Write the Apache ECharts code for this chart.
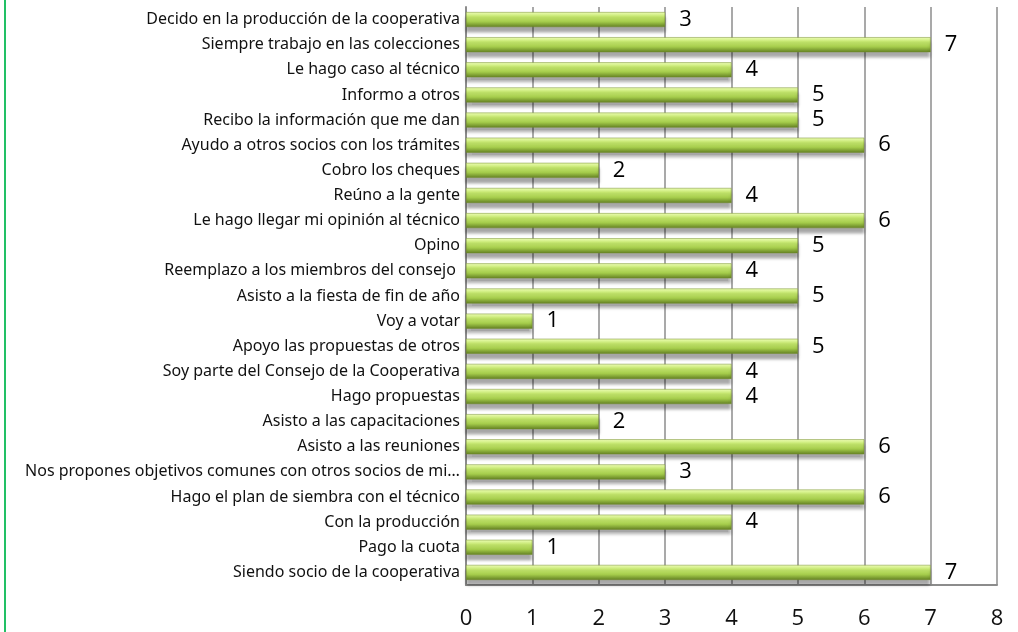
<!DOCTYPE html>
<html>
<head>
<meta charset="utf-8">
<script src="https://cdn.jsdelivr.net/npm/echarts@6/dist/echarts.min.js"></script>
<style>
    html, body { margin: 0; padding: 0; background: #fff; }
    #wrap { position: relative; width: 1018px; height: 632px; }
    #edge { position: absolute; left: 4px; top: 0; width: 2px; height: 632px; background: #22c065; }
    #chart_con { width: 1018px; height: 632px; }
</style>
</head>
<body>
<div id="wrap">
    <div id="chart_con"></div>
    <div id="edge"></div>
</div>
<script>
// categories, top to bottom as in the picture
var categories = [
    'Decido en la producción de la cooperativa',
    'Siempre trabajo en las colecciones',
    'Le hago caso al técnico',
    'Informo a otros',
    'Recibo la información que me dan',
    'Ayudo a otros socios con los trámites',
    'Cobro los cheques',
    'Reúno a la gente',
    'Le hago llegar mi opinión al técnico',
    'Opino',
    'Reemplazo a los miembros del consejo ',
    'Asisto a la fiesta de fin de año',
    'Voy a votar',
    'Apoyo las propuestas de otros',
    'Soy parte del Consejo de la Cooperativa',
    'Hago propuestas',
    'Asisto a las capacitaciones',
    'Asisto a las reuniones',
    'Nos propones objetivos comunes con otros socios de mi…',
    'Hago el plan de siembra con el técnico',
    'Con la producción',
    'Pago la cuota',
    'Siendo socio de la cooperativa'
];
var counts = [3, 7, 4, 5, 5, 6, 2, 4, 6, 5, 4, 5, 1, 5, 4, 4, 2, 6, 3, 6, 4, 1, 7];
var xTicks = [0, 1, 2, 3, 4, 5, 6, 7, 8];

var chart = echarts.init(document.getElementById('chart_con'));
var gridColor = '#8c8c8c';
var option = {
    animation: false,
    grid: { left: 466, right: 21, top: 7, bottom: 47, containLabel: false },
    xAxis: {
        type: 'value',
        min: xTicks[0],
        max: xTicks[xTicks.length - 1],
        interval: 1,
        axisLine: { show: true, lineStyle: { color: gridColor, width: 2 } },
        axisTick: { show: false },
        splitLine: { show: true, lineStyle: { color: gridColor, width: 1.5 } },
        axisLabel: { color: '#111', fontSize: 22, margin: 23, fontFamily: 'Open Sans' }
    },
    yAxis: {
        type: 'category',
        inverse: true,
        data: categories,
        axisLine: { show: true, lineStyle: { color: gridColor, width: 2 } },
        axisTick: { show: false },
        axisLabel: { color: '#111', fontSize: 16, margin: 6, fontFamily: 'Noto Sans' }
    },
    series: [
        {
            name: 'Cantidad',
            type: 'bar',
            data: counts,
            barWidth: 15,
            itemStyle: {
                color: new echarts.graphic.LinearGradient(0, 0, 0, 1, [
                    { offset: 0, color: '#eafab4' },
                    { offset: 0.3, color: '#cbee72' },
                    { offset: 0.65, color: '#a3ca4a' },
                    { offset: 1, color: '#627f22' }
                ]),
                borderColor: '#748f2c',
                borderWidth: 0.5,
                shadowColor: 'rgba(0, 0, 0, 0.35)',
                shadowBlur: 3,
                shadowOffsetY: 5
            },
            label: {
                show: true,
                position: 'right',
                distance: 14,
                color: '#000',
                fontSize: 22,
                fontFamily: 'Open Sans'
            }
        }
    ]
};
chart.setOption(option);
window.addEventListener('resize', function () {
    chart.resize();
});
</script>
</body>
</html>
